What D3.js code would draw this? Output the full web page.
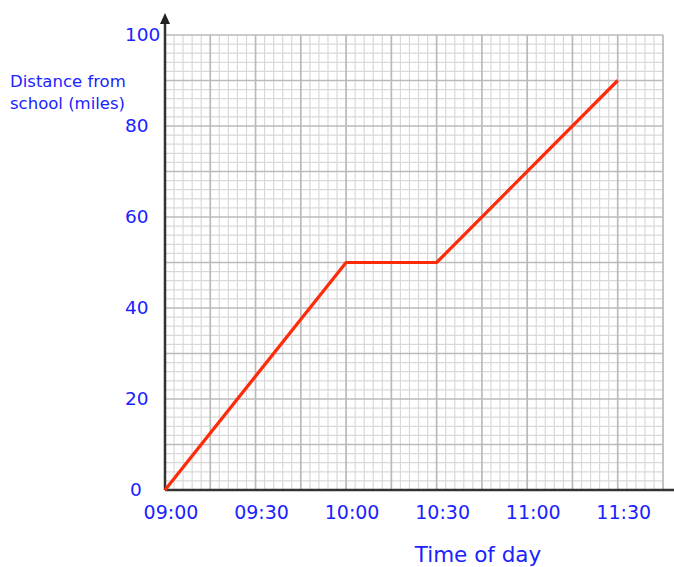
<!DOCTYPE html>
<html>
<head>
<meta charset="utf-8">
<script src="https://cdn.jsdelivr.net/npm/d3@7"></script>
<style>
  body { margin: 0; background: #fff; }
  .lbl { font-family: "Comic Sans MS", "DejaVu Sans", sans-serif; fill: #1a22ff; }
</style>
</head>
<body>
<div id="chart"></div>
<script>
const W = 674, H = 567;
const MARGIN = { top: 35, left: 165 };
const PLOT_W = 498, PLOT_H = 455;

// data
const journeyTimes = ["09:00", "10:00", "10:30", "11:30"];
const journeyMiles = [0, 50, 50, 90];
const xTickLabels = ["09:00", "09:30", "10:00", "10:30", "11:00", "11:30"];
const yTickValues = [0, 20, 40, 60, 80, 100];

const toMin = t => { const p = t.split(":"); return (+p[0]) * 60 + (+p[1]) - 540; };

const svg = d3.select("#chart").append("svg")
  .attr("width", W).attr("height", H);

const x = d3.scaleLinear().domain([0, 165]).range([MARGIN.left, MARGIN.left + PLOT_W]);
const y = d3.scaleLinear().domain([0, 100]).range([MARGIN.top + PLOT_H, MARGIN.top]);

// grid paper
const grid = svg.append("g");
const minorX = d3.range(0, 166, 3).filter(v => v % 15 !== 0);
const minorY = d3.range(0, 101, 2).filter(v => v % 10 !== 0);
const majorX = d3.range(15, 166, 15);
const majorY = d3.range(10, 101, 10);
grid.selectAll("line.mx").data(minorX).join("line")
  .attr("x1", d => x(d)).attr("x2", d => x(d)).attr("y1", y(0)).attr("y2", y(100))
  .attr("stroke", "#d9d9d9").attr("stroke-width", 1.2);
grid.selectAll("line.my").data(minorY).join("line")
  .attr("y1", d => y(d)).attr("y2", d => y(d)).attr("x1", x(0)).attr("x2", x(165))
  .attr("stroke", "#d9d9d9").attr("stroke-width", 1.2);
grid.selectAll("line.MX").data(majorX).join("line")
  .attr("x1", d => x(d)).attr("x2", d => x(d)).attr("y1", y(0)).attr("y2", y(100))
  .attr("stroke", "#bababa").attr("stroke-width", 1.7);
grid.selectAll("line.MY").data(majorY).join("line")
  .attr("y1", d => y(d)).attr("y2", d => y(d)).attr("x1", x(0)).attr("x2", x(165))
  .attr("stroke", "#bababa").attr("stroke-width", 1.7);

// axes
svg.append("line").attr("x1", x(0)).attr("x2", W).attr("y1", y(0)).attr("y2", y(0))
  .attr("stroke", "#333").attr("stroke-width", 2.5);
svg.append("line").attr("x1", x(0)).attr("x2", x(0)).attr("y1", y(0)).attr("y2", 20)
  .attr("stroke", "#333").attr("stroke-width", 2.5);
svg.append("path")
  .attr("d", `M${x(0)},13 L${x(0) - 5},24 L${x(0) + 5},24 Z`)
  .attr("fill", "#222");

// tick labels
svg.selectAll("text.yt").data(yTickValues).join("text")
  .attr("class", "lbl")
  .attr("x", d => d === 0 ? 130 : 125).attr("y", d => y(d))
  .attr("dy", "0.35em").attr("font-size", 18.5)
  .text(d => d);
svg.selectAll("text.xt").data(xTickLabels).join("text")
  .attr("class", "lbl")
  .attr("x", d => x(toMin(d)) + 6).attr("y", y(0) + 22)
  .attr("dy", "0.35em").attr("text-anchor", "middle").attr("font-size", 19)
  .text(d => d);

// axis titles
svg.append("text").attr("class", "lbl").attr("x", 10).attr("y", 87)
  .attr("font-size", 16.5).text("Distance from");
svg.append("text").attr("class", "lbl").attr("x", 10).attr("y", 109)
  .attr("font-size", 16.5).text("school (miles)");
svg.append("text").attr("class", "lbl").attr("x", 478).attr("y", 562)
  .attr("text-anchor", "middle").attr("font-size", 21.5).text("Time of day");

// journey line
const pts = journeyTimes.map((t, i) => ({ t: toMin(t), v: journeyMiles[i] }));
svg.append("path").datum(pts)
  .attr("d", d3.line().x(d => x(d.t)).y(d => y(d.v)))
  .attr("fill", "none").attr("stroke", "#ff2a0a").attr("stroke-width", 3.2)
  .attr("stroke-linejoin", "round");
</script>
</body>
</html>
